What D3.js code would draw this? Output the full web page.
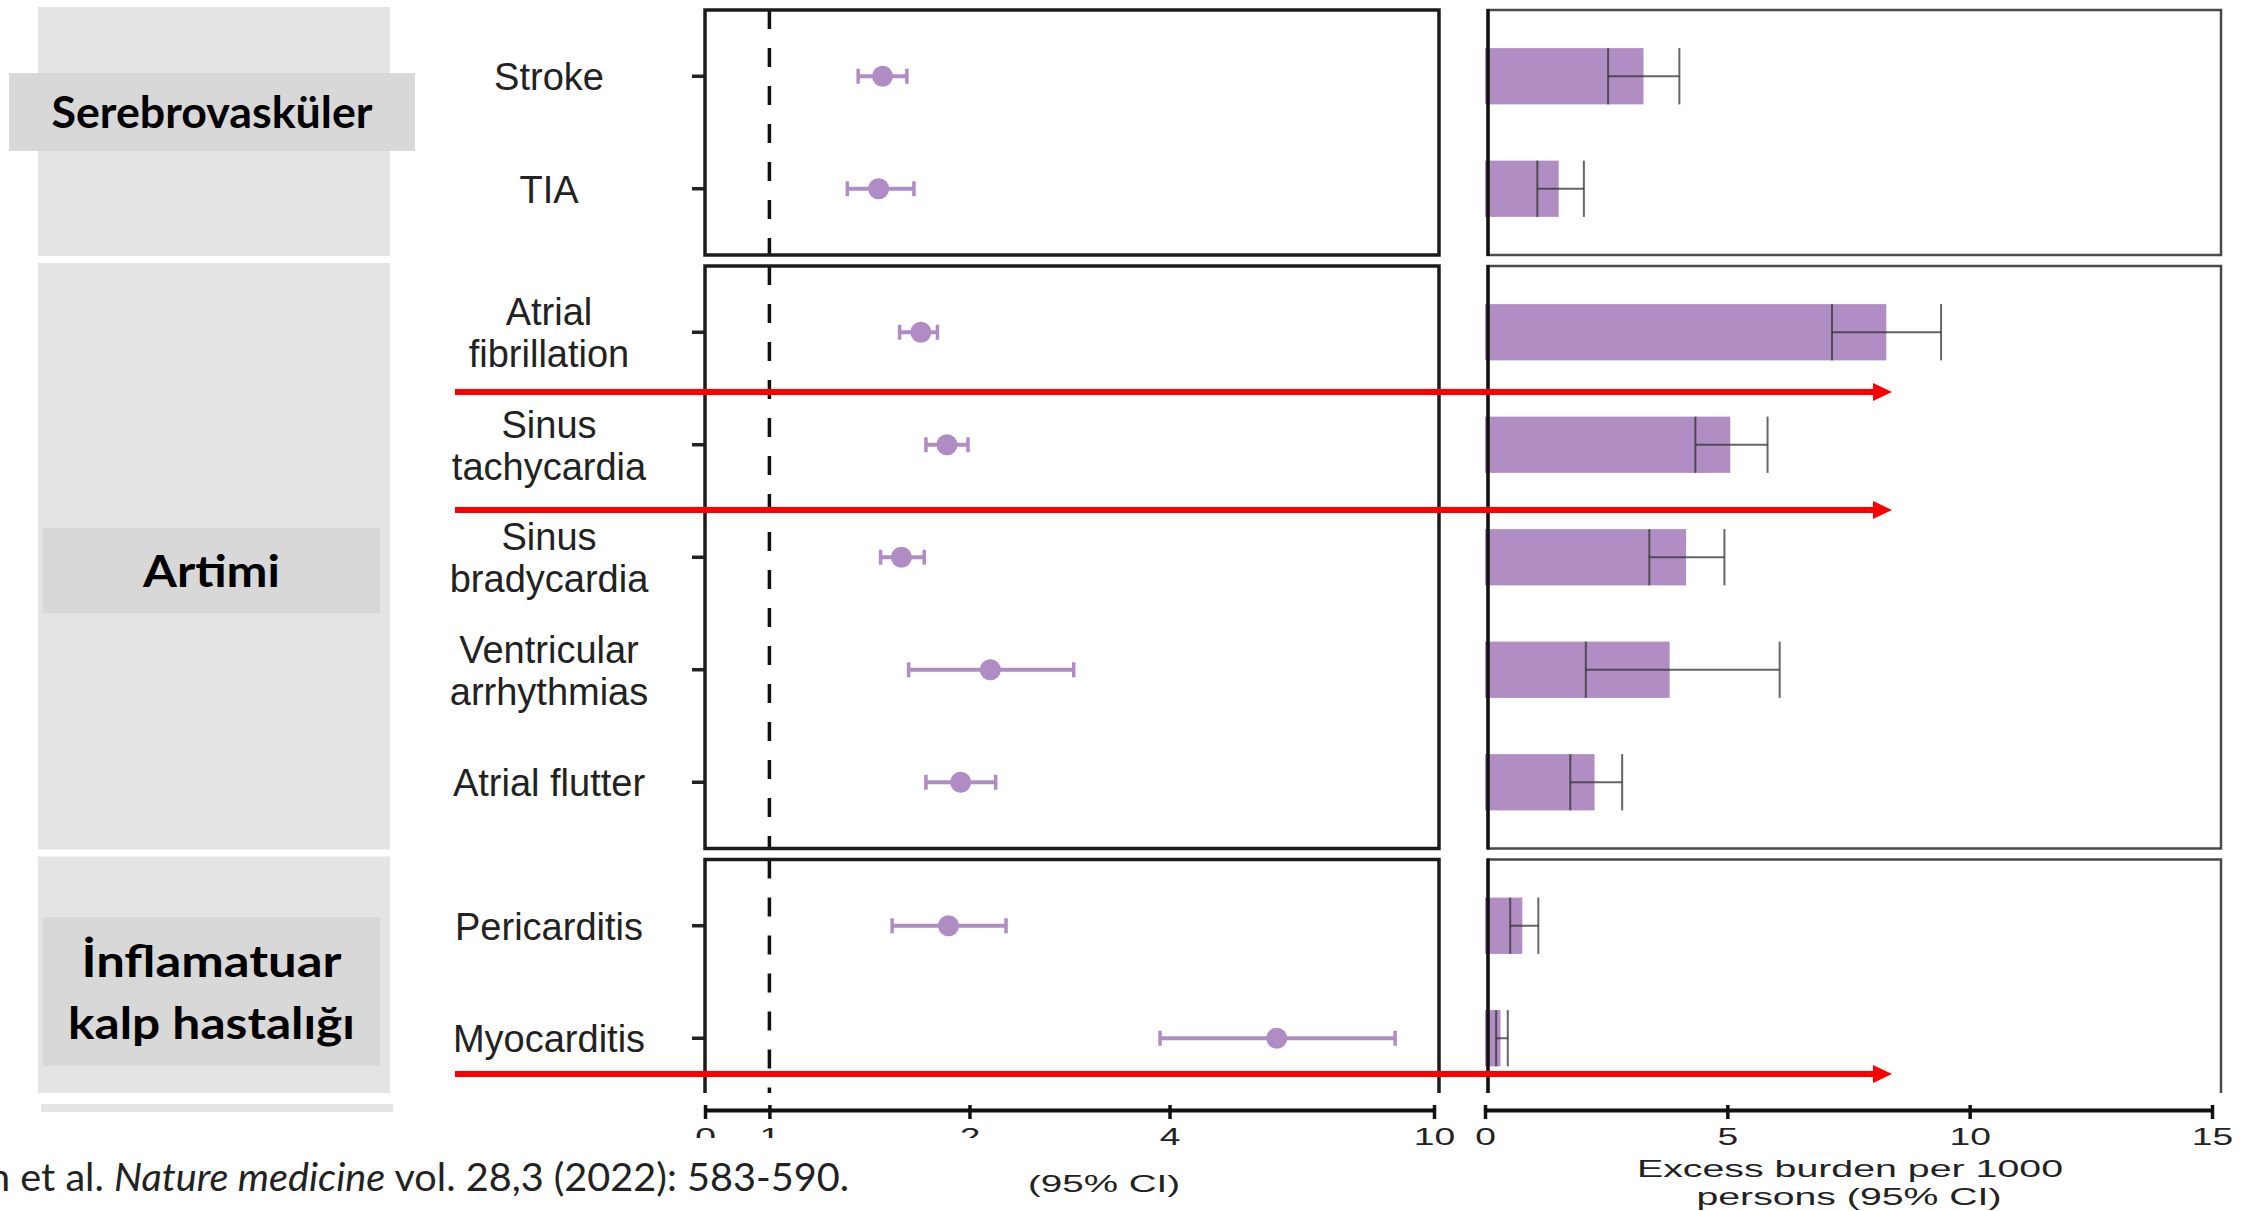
<!DOCTYPE html>
<html>
<head>
<meta charset="utf-8">
<script src="https://cdn.jsdelivr.net/npm/d3@7"></script>
<style>
  body { margin: 0; background: #fff; }
  svg { display: block; }
</style>
</head>
<body>
<div id="chart"></div>
<script>

// DATA (Xie et al. 2022)

var outcomes = ["Stroke", "TIA", "Atrial fibrillation", "Sinus tachycardia", "Sinus bradycardia",
                "Ventricular arrhythmias", "Atrial flutter", "Pericarditis", "Myocarditis"]
var outcomeLines = [["Stroke"], ["TIA"], ["Atrial", "fibrillation"], ["Sinus", "tachycardia"],
                    ["Sinus", "bradycardia"], ["Ventricular", "arrhythmias"], ["Atrial flutter"],
                    ["Pericarditis"], ["Myocarditis"]]

var groupNames = [["Serebrovasküler"], ["Artimi"], ["İnflamatuar", "kalp hastalığı"]]
var groupSizes = [2, 5, 2]

// hazard ratio + 95% CI
var hr     = [1.48, 1.46, 1.69, 1.85, 1.58, 2.15, 1.94, 1.86, 5.80]
var hrLow  = [1.36, 1.31, 1.57, 1.72, 1.47, 1.62, 1.72, 1.53, 3.87]
var hrHigh = [1.61, 1.65, 1.79, 1.99, 1.71, 2.87, 2.19, 2.27, 8.74]

// excess burden per 1000 persons + 95% CI
var burden     = [3.27, 1.52, 8.28, 5.06, 4.15, 3.81, 2.26, 0.77, 0.32]
var burdenLow  = [2.54, 1.08, 7.16, 4.34, 3.39, 2.08, 1.76, 0.52, 0.23]
var burdenHigh = [4.01, 2.04, 9.41, 5.83, 4.94, 6.08, 2.83, 1.10, 0.47]

var hrTicks = [0.8, 1, 2, 4, 10]
var hrTickLabels = ["0", "1", "2", "4", "10"]
var burdenTicks = [0, 5, 10, 15]

var citation = ["n et al. ", "Nature medicine", " vol. 28,3 (2022): 583-590."]

// LAYOUT

var W = 2262, H = 1211
var rowStep = 112.5, panelPad = 10, panelGap = 11, top0 = 10
var axisY = 1110
var cutTop = 1093   // the figure is cropped just above the axis

var purple = "#b08cc4"
var labelFont = "'Liberation Sans', Arial, sans-serif"
var boxFont = "Lato, 'Open Sans', sans-serif"

// grey label boxes on the left, one per group
var boxes = [
  {x: 9,  y: 73,  w: 406, h: 78,  widths: [321]},
  {x: 43, y: 528, w: 337, h: 85,  widths: [137]},
  {x: 43, y: 917, w: 337, h: 149, widths: [260, 287]}
]

var svg = d3.select("#chart").append("svg")
    .attr("width", W)
    .attr("height", H)

svg.append("rect").attr("width", W).attr("height", H).attr("fill", "#fff")

// SCALES

var xHR = d3.scaleLog().domain([0.8, 10]).range([705, 1434])
var xB = d3.scaleLinear().domain([0, 15]).range([1485, 2212])

// panels (one per group) stacked top to bottom
var panels = []
var t = top0, start = 0
groupSizes.forEach(function(n, i) {
  var h = n * rowStep + 2 * panelPad
  var p = {i: i, rows: outcomes.slice(start, start + n), top: t, bottom: t + h}
  p.y = d3.scaleBand()
      .domain(p.rows)
      .range([p.top + panelPad, p.bottom - panelPad])
      .paddingInner(0.5)
      .paddingOuter(0.25)
  panels.push(p)
  t += h + panelGap
  start += n
})

var rows = outcomes.map(function(o, i) {
  var p = panels.find(function(pp) { return pp.rows.indexOf(o) >= 0 })
  var y0 = p.y(o), bw = p.y.bandwidth()
  return {name: o, lines: outcomeLines[i], hr: hr[i], lo: hrLow[i], hi: hrHigh[i],
          b: burden[i], blo: burdenLow[i], bhi: burdenHigh[i],
          y0: y0, bw: bw, cy: y0 + bw / 2}
})

/*
  LEFT GREY COLUMN + GROUP LABELS
*/

svg.selectAll(".band")
    .data(panels)
    .enter()
    .append("rect")
    .attr("class", "band")
    .attr("x", 38)
    .attr("width", 352)
    .attr("y", function(p) { return p.top - 3 })
    .attr("height", function(p) { return p.bottom - p.top + 4 })
    .attr("fill", "#e4e4e4")

svg.selectAll(".gbox")
    .data(boxes)
    .enter()
    .append("rect")
    .attr("class", "gbox")
    .attr("x", function(b) { return b.x })
    .attr("y", function(b) { return b.y })
    .attr("width", function(b) { return b.w })
    .attr("height", function(b) { return b.h })
    .attr("fill", "#d8d8d8")

boxes.forEach(function(b, i) {
  var lines = groupNames[i]
  var cx = b.x + b.w / 2, cy = b.y + b.h / 2
  lines.forEach(function(line, j) {
    svg.append("text")
        .attr("x", cx)
        .attr("y", cy + 16 + (j - (lines.length - 1) / 2) * 62)
        .attr("text-anchor", "middle")
        .attr("font-family", boxFont)
        .attr("font-weight", 700)
        .attr("font-size", "44px")
        .attr("textLength", b.widths[j])
        .attr("lengthAdjust", "spacingAndGlyphs")
        .attr("fill", "#000")
        .text(line)
  })
})

/*
  OUTCOME LABELS
*/

rows.forEach(function(r) {
  r.lines.forEach(function(line, j) {
    svg.append("text")
        .attr("x", 549)
        .attr("y", r.cy + 14 + (j - (r.lines.length - 1) / 2) * 42)
        .attr("text-anchor", "middle")
        .attr("font-family", labelFont)
        .attr("font-size", "38px")
        .attr("fill", "#222")
        .text(line)
  })
})

/*
  FOREST PLOT (hazard ratios)
*/

// reference line at HR = 1, dashed, restarted in each panel
svg.selectAll(".ref")
    .data(panels)
    .enter()
    .append("line")
    .attr("x1", xHR(1)).attr("x2", xHR(1))
    .attr("y1", function(p) { return p.top })
    .attr("y2", function(p) { return Math.min(p.bottom, cutTop) })
    .attr("stroke", "#111")
    .attr("stroke-width", 3.5)
    .attr("stroke-dasharray", "19,19")

// y ticks
svg.selectAll(".ytick")
    .data(rows)
    .enter()
    .append("line")
    .attr("x1", xHR(0.8) - 13).attr("x2", xHR(0.8))
    .attr("y1", function(d) { return d.cy }).attr("y2", function(d) { return d.cy })
    .attr("stroke", "#222")
    .attr("stroke-width", 3.5)

svg.selectAll(".ci")
    .data(rows)
    .enter()
    .append("line")
    .attr("x1", function(d) { return xHR(d.lo) })
    .attr("x2", function(d) { return xHR(d.hi) })
    .attr("y1", function(d) { return d.cy }).attr("y2", function(d) { return d.cy })
    .attr("stroke", purple)
    .attr("stroke-width", 4)

;["lo", "hi"].forEach(function(k) {
  svg.selectAll(".cap-" + k)
      .data(rows)
      .enter()
      .append("line")
      .attr("x1", function(d) { return xHR(d[k]) }).attr("x2", function(d) { return xHR(d[k]) })
      .attr("y1", function(d) { return d.cy - 7.5 }).attr("y2", function(d) { return d.cy + 7.5 })
      .attr("stroke", purple)
      .attr("stroke-width", 3.5)
})

svg.selectAll(".dot")
    .data(rows)
    .enter()
    .append("circle")
    .attr("cx", function(d) { return xHR(d.hr) })
    .attr("cy", function(d) { return d.cy })
    .attr("r", 10.5)
    .attr("fill", purple)

/*
  BAR CHART (excess burden)
*/

svg.selectAll(".bar")
    .data(rows)
    .enter()
    .append("rect")
    .attr("x", xB(0))
    .attr("y", function(d) { return d.y0 })
    .attr("width", function(d) { return xB(d.b) - xB(0) })
    .attr("height", function(d) { return d.bw })
    .attr("fill", "#b08dc3")

var err = svg.append("g")
    .attr("stroke", "#333")
    .attr("stroke-opacity", 0.75)
    .attr("stroke-width", 2)

err.selectAll(".bh")
    .data(rows)
    .enter()
    .append("line")
    .attr("x1", function(d) { return xB(d.blo) }).attr("x2", function(d) { return xB(d.bhi) })
    .attr("y1", function(d) { return d.cy }).attr("y2", function(d) { return d.cy })

;["blo", "bhi"].forEach(function(k) {
  err.selectAll(".bv-" + k)
      .data(rows)
      .enter()
      .append("line")
      .attr("x1", function(d) { return xB(d[k]) }).attr("x2", function(d) { return xB(d[k]) })
      .attr("y1", function(d) { return d.y0 }).attr("y2", function(d) { return d.y0 + d.bw })
})

/*
  PANEL FRAMES
*/

svg.selectAll(".frameL")
    .data(panels)
    .enter()
    .append("rect")
    .attr("x", 705).attr("width", 734)
    .attr("y", function(p) { return p.top })
    .attr("height", function(p) { return p.bottom - p.top })
    .attr("fill", "none")
    .attr("stroke", "#1c1c1c")
    .attr("stroke-width", 3.5)

svg.selectAll(".frameR")
    .data(panels)
    .enter()
    .append("rect")
    .attr("x", 1488).attr("width", 733)
    .attr("y", function(p) { return p.top })
    .attr("height", function(p) { return p.bottom - p.top })
    .attr("fill", "none")
    .attr("stroke", "#4a4a4a")
    .attr("stroke-width", 2.5)

svg.selectAll(".frameRl")
    .data(panels)
    .enter()
    .append("line")
    .attr("x1", 1488).attr("x2", 1488)
    .attr("y1", function(p) { return p.top - 1 })
    .attr("y2", function(p) { return p.bottom + 1 })
    .attr("stroke", "#111")
    .attr("stroke-width", 3.5)

// crop strip between last panel and the axis
svg.append("rect")
    .attr("x", 0).attr("y", cutTop)
    .attr("width", W).attr("height", 14)
    .attr("fill", "#fff")

svg.append("rect")
    .attr("x", 41).attr("y", 1104)
    .attr("width", 352).attr("height", 8)
    .attr("fill", "#e4e4e4")

/*
  X AXES
*/

function styleAxis(g) {
  g.select(".domain").attr("stroke", "#111").attr("stroke-width", 4)
  g.selectAll(".tick line").attr("y1", -5).attr("y2", 9).attr("stroke", "#111").attr("stroke-width", 3.5)
  g.selectAll(".tick text")
      .attr("y", 35)
      .attr("dy", 0)
      .attr("transform", "scale(1.55,1)")
      .attr("font-family", labelFont)
      .attr("font-size", "24px")
      .attr("fill", "#222")
}

svg.append("g")
    .attr("transform", "translate(0," + axisY + ")")
    .call(d3.axisBottom(xHR)
        .tickValues(hrTicks)
        .tickFormat(function(d, i) { return hrTickLabels[i] })
        .tickSizeOuter(0))
    .call(styleAxis)

svg.append("g")
    .attr("transform", "translate(0," + axisY + ")")
    .call(d3.axisBottom(xB)
        .tickValues(burdenTicks)
        .tickSizeOuter(0))
    .call(styleAxis)

// the citation box sits over the left axis labels
svg.append("rect")
    .attr("x", 0).attr("y", 1138)
    .attr("width", 1015).attr("height", H - 1138)
    .attr("fill", "#fff")

var cite = svg.append("text")
    .attr("x", -12)
    .attr("y", 1191)
    .attr("font-family", boxFont)
    .attr("font-size", "39px")
    .attr("fill", "#222")
    .attr("textLength", 861)
    .attr("lengthAdjust", "spacingAndGlyphs")
cite.append("tspan").text(citation[0])
cite.append("tspan").attr("font-style", "italic").text(citation[1])
cite.append("tspan").text(citation[2])

// axis titles (stretched in the source image)
var titles = [
  {text: "(95% CI)", x: 1104, y: 1192, w: 152},
  {text: "Excess burden per 1000", x: 1850, y: 1177, w: 426},
  {text: "persons (95% CI)", x: 1849, y: 1205, w: 305}
]
svg.selectAll(".title")
    .data(titles)
    .enter()
    .append("text")
    .attr("x", function(d) { return d.x })
    .attr("y", function(d) { return d.y })
    .attr("text-anchor", "middle")
    .attr("font-family", labelFont)
    .attr("font-size", "24px")
    .attr("fill", "#222")
    .attr("textLength", function(d) { return d.w })
    .attr("lengthAdjust", "spacingAndGlyphs")
    .text(function(d) { return d.text })

/*
  RED ANNOTATION ARROWS
*/

var arrowYs = [392, 510, 1074]
svg.selectAll(".arrow")
    .data(arrowYs)
    .enter()
    .append("line")
    .attr("x1", 455).attr("x2", 1876)
    .attr("y1", function(d) { return d }).attr("y2", function(d) { return d })
    .attr("stroke", "#ff0000")
    .attr("stroke-width", 6)

svg.selectAll(".head")
    .data(arrowYs)
    .enter()
    .append("path")
    .attr("d", function(d) { return "M1873," + (d - 9) + "L1892," + d + "L1873," + (d + 9) + "Z" })
    .attr("fill", "#ff0000")

</script>
</body>
</html>
